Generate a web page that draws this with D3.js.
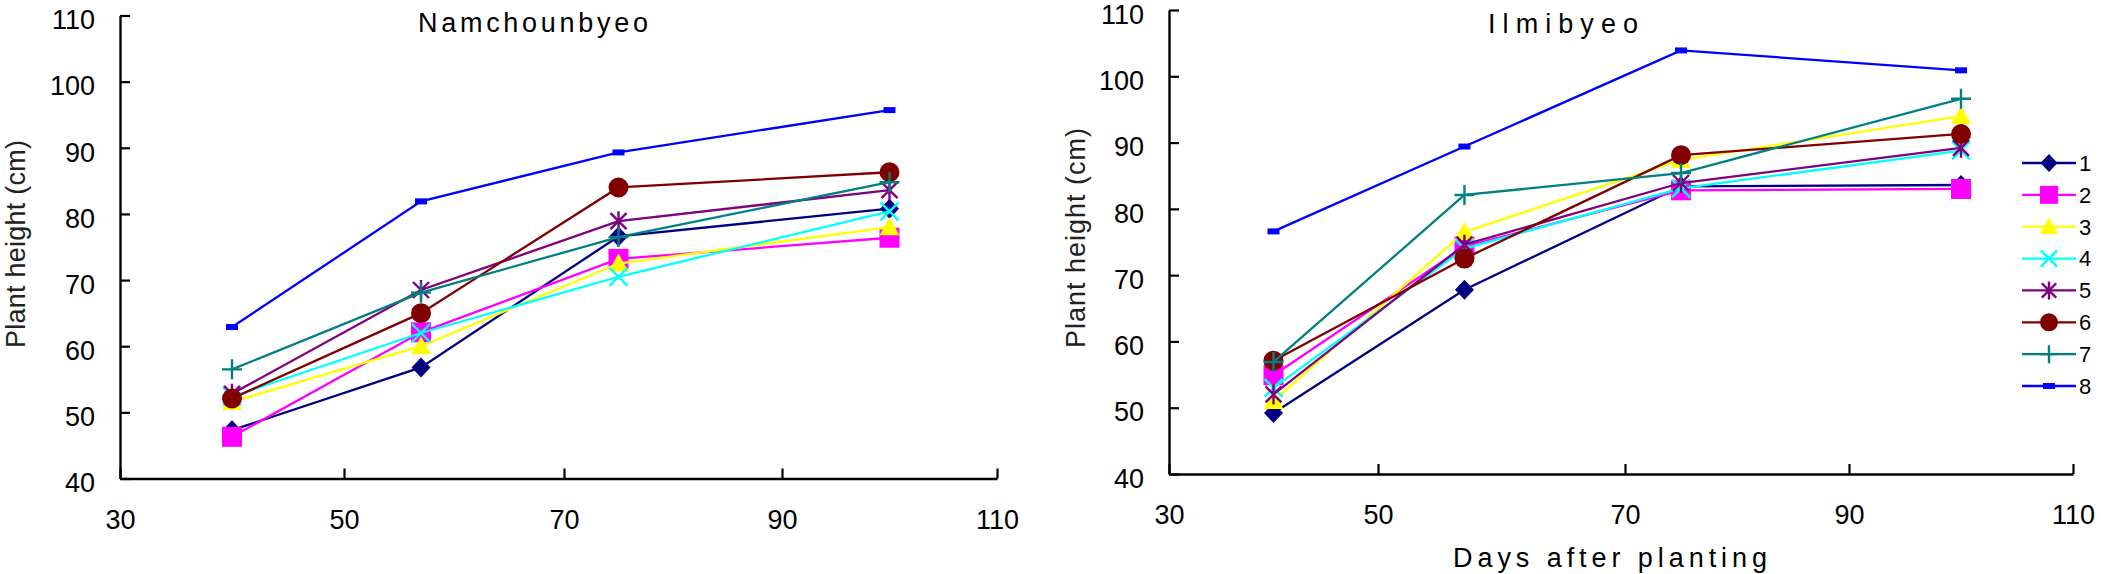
<!DOCTYPE html>
<html>
<head>
<meta charset="utf-8">
<script src="https://cdn.jsdelivr.net/npm/d3@7"></script>
<style>
  html, body { margin: 0; padding: 0; background: #fff; }
  svg { display: block; }
  text { font-family: "Liberation Sans", Arial, sans-serif; }
</style>
</head>
<body>
<svg id="chart" width="2101" height="574"></svg>
<script>
// ---------- data ----------
const days = [40, 57, 75, 100];
const seriesNames = ["1", "2", "3", "4", "5", "6", "7", "8"];
const seriesColors = ["#000080", "#FF00FF", "#FFFF00", "#00FFFF", "#800080", "#800000", "#008080", "#0000FF"];
const seriesMarkers = ["diamond", "square", "triangle", "x", "asterisk", "circle", "plus", "dash"];
const xTicks = [30, 50, 70, 90, 110];
const yTicks = [40, 50, 60, 70, 80, 90, 100, 110];

const namchounbyeo = [
  [47.3, 56.8, 76.6, 80.8],
  [46.3, 62.1, 73.2, 76.4],
  [51.6, 60.0, 72.5, 78.0],
  [52.4, 62.0, 70.5, 80.4],
  [52.8, 68.5, 78.9, 83.6],
  [52.1, 65.0, 84.0, 86.3],
  [56.5, 68.1, 76.5, 84.8],
  [62.9, 81.9, 89.3, 95.7]
];
const ilmibyeo = [
  [49.2, 67.8, 83.4, 83.6],
  [54.9, 74.3, 82.8, 83.0],
  [51.0, 76.5, 87.4, 94.0],
  [53.0, 74.0, 83.1, 88.8],
  [52.0, 74.6, 83.9, 89.2],
  [57.1, 72.5, 88.1, 91.3],
  [56.9, 82.1, 85.4, 96.6],
  [76.6, 89.4, 103.9, 100.9]
];

// ---------- layout ----------
const svg = d3.select("#chart");
const FONT = 27;

function markerPath(type, cx, cy, s) {
  const h = s / 2;
  switch (type) {
    case "diamond": return `M${cx},${cy - h}L${cx + h * 0.95},${cy}L${cx},${cy + h}L${cx - h * 0.95},${cy}Z`;
    case "square": return `M${cx - h},${cy - h}H${cx + h}V${cy + h}H${cx - h}Z`;
    case "triangle": return `M${cx},${cy - h}L${cx + h},${cy + h * 0.8}L${cx - h},${cy + h * 0.8}Z`;
    case "circle": return `M${cx + h},${cy}A${h},${h} 0 1,1 ${cx - h},${cy}A${h},${h} 0 1,1 ${cx + h},${cy}Z`;
    case "x": { const d = h * 0.9; return `M${cx - d},${cy - d}L${cx + d},${cy + d}M${cx - d},${cy + d}L${cx + d},${cy - d}`; }
    case "plus": return `M${cx - h},${cy}H${cx + h}M${cx},${cy - h}V${cy + h}`;
    case "asterisk": { const d = h * 0.8; return `M${cx - d},${cy - d}L${cx + d},${cy + d}M${cx - d},${cy + d}L${cx + d},${cy - d}M${cx},${cy - h}V${cy + h}`; }
    case "dash": return `M${cx - 6},${cy - 3}H${cx + 6}V${cy + 3}H${cx - 6}Z`;
  }
}
const filled = { diamond: true, square: true, triangle: true, circle: true, dash: true };

function drawMarker(g, type, color, cx, cy, s) {
  const p = g.append("path").attr("d", markerPath(type, cx, cy, s));
  if (filled[type]) p.attr("fill", color).attr("stroke", "none");
  else p.attr("fill", "none").attr("stroke", color).attr("stroke-width", 2.4);
}

function drawPanel(cfg) {
  const g = svg.append("g");
  const x = d3.scaleLinear().domain(xTicks).range(cfg.xRange);
  const y = d3.scaleLinear().domain([40, 110]).range(cfg.yRange);

  // y axis
  const ya = g.append("g").attr("transform", `translate(${cfg.xRange[0]},0)`)
    .call(d3.axisLeft(y).tickValues(yTicks).tickSizeInner(-10).tickSizeOuter(0).tickPadding(25));
  // x axis
  const xa = g.append("g").attr("transform", `translate(0,${cfg.yRange[0]})`)
    .call(d3.axisBottom(x).tickValues(xTicks).tickSizeInner(-10).tickSizeOuter(0).tickPadding(31));
  [ya, xa].forEach(a => {
    a.select(".domain").attr("stroke", "#000").attr("stroke-width", 2.4);
    a.selectAll(".tick line").attr("stroke", "#000").attr("stroke-width", 2.2);
    a.selectAll(".tick text").attr("fill", "#000").style("font-size", FONT + "px")
      .style("font-family", '"Liberation Sans", Arial, sans-serif');
  });
  ya.selectAll(".tick text").attr("dy", "0.49em");

  // title
  g.append("text").attr("x", cfg.title.x).attr("y", cfg.title.y)
    .attr("textLength", cfg.title.w).attr("lengthAdjust", "spacing")
    .style("font-size", FONT + "px").attr("fill", "#000").text(cfg.title.text);

  // y label
  g.append("text").attr("transform", `translate(${cfg.ylab.x},${cfg.ylab.y}) rotate(-90)`)
    .attr("text-anchor", "middle").attr("textLength", cfg.ylab.w).attr("lengthAdjust", "spacing")
    .style("font-size", "27px").attr("fill", "#222").text("Plant height (cm)");

  // series
  const line = d3.line().x((d, i) => x(days[i])).y(d => y(d));
  cfg.data.forEach((vals, si) => {
    const sg = g.append("g");
    sg.append("path").datum(vals).attr("d", line)
      .attr("fill", "none").attr("stroke", seriesColors[si]).attr("stroke-width", 2.3);
    vals.forEach((v, i) => {
      drawMarker(sg, seriesMarkers[si], seriesColors[si], x(days[i]), y(v), 20);
    });
  });
}

drawPanel({
  xRange: [120, 344, 564, 782, 997],
  yRange: [478.5, 15.5],
  data: namchounbyeo,
  title: { text: "Namchounbyeo", x: 418, y: 32, w: 230 },
  ylab: { x: 25, y: 244, w: 208 }
});
drawPanel({
  xRange: [1169, 1378, 1625, 1849, 2073],
  yRange: [474, 10],
  data: ilmibyeo,
  title: { text: "Ilmibyeo", x: 1488, y: 33, w: 150 },
  ylab: { x: 1085, y: 238, w: 220 }
});

// x axis title (bottom of right panel)
svg.append("text").attr("x", 1453).attr("y", 567)
  .attr("textLength", 314).attr("lengthAdjust", "spacing")
  .style("font-size", "27px").attr("fill", "#000").text("Days after planting");

// legend
const legendY = d3.scaleLinear().domain([0, 7]).range([163, 386]);
const lg = svg.append("g");
seriesNames.forEach((name, i) => {
  const cy = legendY(i);
  lg.append("line").attr("x1", 2022).attr("x2", 2076).attr("y1", cy).attr("y2", cy)
    .attr("stroke", seriesColors[i]).attr("stroke-width", 2.3);
  drawMarker(lg, seriesMarkers[i], seriesColors[i], 2049, cy, 18);
  lg.append("text").attr("x", 2079).attr("y", cy).attr("dy", "0.36em")
    .style("font-size", "22px").attr("fill", "#000").text(name);
});
</script>
</body>
</html>
